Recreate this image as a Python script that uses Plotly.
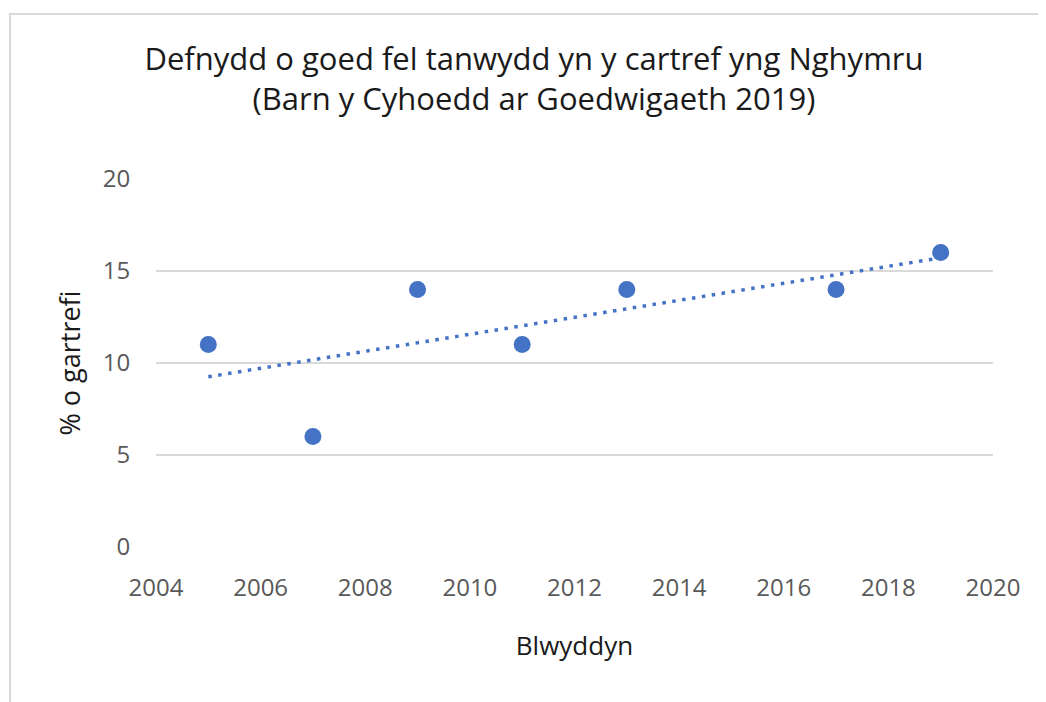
import numpy as np
import plotly.graph_objects as go

years = [2005, 2007, 2009, 2011, 2013, 2017, 2019]
percent_homes = [11, 6, 14, 11, 14, 14, 16]
x_ticks = [2004, 2006, 2008, 2010, 2012, 2014, 2016, 2018, 2020]
y_ticks = [0, 5, 10, 15, 20]

title_lines = ["Defnydd o goed fel tanwydd yn y cartref yng Nghymru",
               "(Barn y Cyhoedd ar Goedwigaeth 2019)"]
x_title = "Blwyddyn"
y_title = "% o gartrefi"

blue = "#4472C4"
font_fam = "Open Sans, Lato, DejaVu Sans, sans-serif"

# linear trendline fitted to the data
slope, intercept = np.polyfit(years, percent_homes, 1)
trend_x = [years[0], years[-1]]
trend_y = [slope * x + intercept for x in trend_x]

fig = go.Figure()
fig.add_trace(go.Scatter(x=trend_x, y=trend_y, mode="lines",
                         line=dict(color=blue, width=3.5, dash="3.5px,6.5px"),
                         hoverinfo="skip", showlegend=False))
fig.add_trace(go.Scatter(x=years, y=percent_homes, mode="markers",
                         marker=dict(color=blue, size=17, line=dict(width=0)),
                         showlegend=False))

W, H = 1046, 702
ml, mr, mt, mb = 148, 61, 171, 163

fig.update_layout(
    width=W, height=H,
    margin=dict(l=ml, r=mr, t=mt, b=mb, pad=0),
    paper_bgcolor="white", plot_bgcolor="white",
    title=dict(text="<br>".join(title_lines), x=(534 - 8) / W,
               xanchor="center", xref="container",
               y=1 - 62 / H, yanchor="top", yref="container",
               font=dict(family=font_fam, size=31, color="#1a1a1a")),
    xaxis=dict(range=[2004, 2020], tickvals=x_ticks, showgrid=False,
               zeroline=False, showline=False, ticks="outside", ticklen=19,
               tickcolor="rgba(0,0,0,0)",
               tickfont=dict(family=font_fam, size=24, color="#595959"),
               title=dict(text=x_title, standoff=35,
                          font=dict(family=font_fam, size=26, color="#1a1a1a"))),
    yaxis=dict(range=[0, 20], tickvals=y_ticks, showgrid=True,
               gridcolor="#d9d9d9", gridwidth=2, zeroline=False, showline=False,
               ticks="outside", ticklen=20, tickcolor="rgba(0,0,0,0)",
               tickfont=dict(family=font_fam, size=24, color="#595959"),
               title=dict(text=y_title, standoff=14,
                          font=dict(family=font_fam, size=27, color="#1a1a1a"))),
)

# outer chart border (extends past right and bottom of the image)
pw = W - ml - mr
ph = H - mt - mb
def px_to_paper_x(px):
    return (px - ml) / pw
def px_to_paper_y(py):
    return (H - mb - py) / ph
fig.add_shape(type="rect", xref="paper", yref="paper",
              x0=px_to_paper_x(2), x1=px_to_paper_x(W + 20),
              y0=px_to_paper_y(H + 20), y1=px_to_paper_y(6),
              line=dict(color="#d9d9d9", width=2), layer="below")

fig.write_html("out.html")
